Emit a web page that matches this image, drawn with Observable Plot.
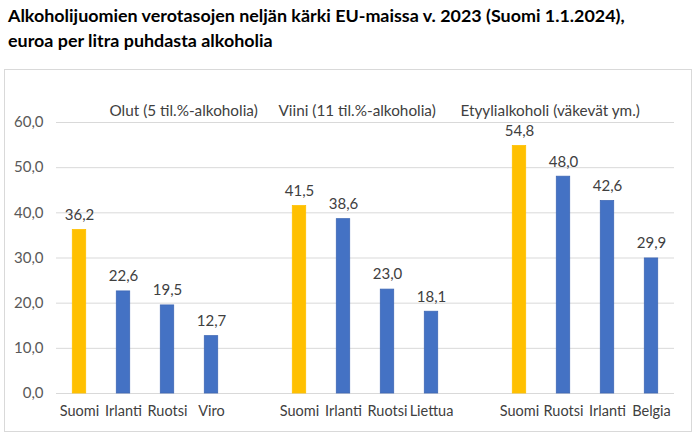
<!DOCTYPE html>
<html>
<head>
<meta charset="utf-8">
<script src="https://cdn.jsdelivr.net/npm/d3@7"></script>
<script src="https://cdn.jsdelivr.net/npm/@observablehq/plot@0.6"></script>
<style>
  html, body { margin: 0; padding: 0; background: #fff; }
  body { width: 700px; height: 437px; position: relative; overflow: hidden; font-family: Lato, "Noto Sans", sans-serif; }
  #title { position: absolute; left: 8px; top: 3px; font-weight: bold; font-size: 17.9px; line-height: 25px; color: #000; }
  #box { position: absolute; left: 4px; top: 69px; width: 686px; height: 361px; border: 1px solid #d9d9d9; }
  #box svg { display: block; }
</style>
</head>
<body>
<div id="title">Alkoholijuomien verotasojen neljän kärki EU-maissa v. 2023 (Suomi 1.1.2024),<br>euroa per litra puhdasta alkoholia</div>
<div id="box"></div>
<script>
const groups = ["Olut (5 til.%-alkoholia)", "Viini (11 til.%-alkoholia)", "Etyylialkoholi (väkevät ym.)"];
const countries = [
  ["Suomi", "Irlanti", "Ruotsi", "Viro"],
  ["Suomi", "Irlanti", "Ruotsi", "Liettua"],
  ["Suomi", "Ruotsi", "Irlanti", "Belgia"]
];
const values = [
  [36.2, 22.6, 19.5, 12.7],
  [41.5, 38.6, 23.0, 18.1],
  [54.8, 48.0, 42.6, 29.9]
];
const yTicks = [0, 10, 20, 30, 40, 50, 60];
const groupLabelDx = [30, -21, -59];

// build rows and x domain (with an empty slot between groups)
const rows = [];
const domain = [];
groups.forEach((g, gi) => {
  if (gi > 0) domain.push("gap" + gi);
  countries[gi].forEach((c, ci) => {
    const key = gi + "|" + c;
    domain.push(key);
    rows.push({key, group: g, gi, country: c, value: values[gi][ci]});
  });
});
const fmt = v => d3.format(".1f")(v).replace(".", ",");

const chart = Plot.plot({
  width: 686,
  height: 361,
  marginLeft: 51,
  marginRight: 17,
  marginTop: 52,
  marginBottom: 38,
  style: {fontFamily: "Lato, 'Noto Sans', sans-serif", fontSize: "15px", color: "#595959", background: "#fff"},
  x: {domain, padding: 0, axis: null, label: null},
  y: {domain: [0, 60], axis: null, label: null},
  marks: [
    Plot.gridY(yTicks, {stroke: "#d9d9d9", strokeOpacity: 1, strokeWidth: 1}),
    Plot.axisY(yTicks, {tickSize: 0, tickPadding: 13, tickFormat: fmt, fill: "#595959", fontSize: 15, label: null}),
    Plot.axisX(domain, {tickSize: 0, tickPadding: 12, fontSize: 14.5, fill: "#404040", label: null,
      tickFormat: k => k.startsWith("gap") ? "" : k.split("|")[1]}),
    Plot.barY(rows, {x: "key", y: "value", insetLeft: 15.3, insetRight: 15.3,
      fill: d => d.country === "Suomi" ? "#FFC000" : "#4472C4",
      stroke: d => d.country === "Suomi" ? "#FFC000" : "#3F68B5", strokeWidth: 0.8}),
    Plot.text(rows, {x: "key", y: "value", text: d => fmt(d.value), dy: -15, fill: "#404040", fontSize: 15}),
    ...groups.map((g, gi) => Plot.text([rows.find(r => r.gi === gi)], {
      x: "key", frameAnchor: "top", dy: -17, text: d => d.group, textAnchor: "start",
      dx: groupLabelDx[gi], fill: "#404040", fontSize: 15.3
    }))
  ]
});
document.getElementById("box").appendChild(chart);
</script>
</body>
</html>
